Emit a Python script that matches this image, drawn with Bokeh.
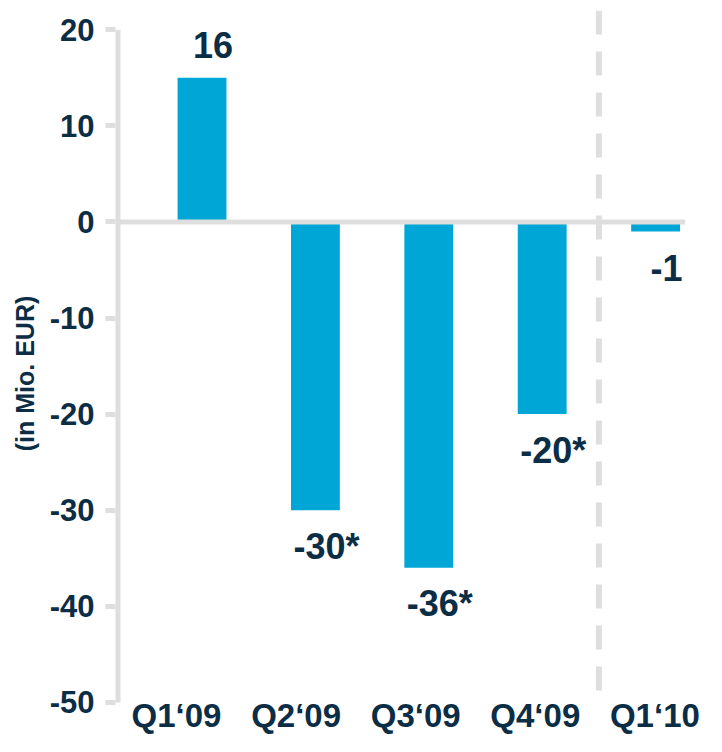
from bokeh.plotting import figure
from bokeh.models import Range1d, FixedTicker, ColumnDataSource
from bokeh.core.properties import value
from bokeh.embed import file_html
from bokeh.resources import INLINE

# ---- data ----
categories = ["Q1\u201809", "Q2\u201809", "Q3\u201809", "Q4\u201809", "Q1\u201810"]
values = [15, -30, -36, -20, -1]
value_labels = ["16", "-30*", "-36*", "-20*", "-1"]
y_ticks = [-50, -40, -30, -20, -10, 0, 10, 20]
y_tick_labels = ["-50", "-40", "-30", "-20", "-10", "0", "10", "20"]
y_title = "(in Mio. EUR)"
divider_after = 3  # dashed divider between Q4'09 and Q1'10

# ---- style ----
BAR = "#00A7D6"
NAVY = "#0B2D45"
GRAY = "#DEDEDE"
FONT = "Liberation Sans"

X_START, X_END = -0.763, 4.449          # bar scale
LBL_START, LBL_END = -0.510, 4.4315     # category-label scale (labels spaced a bit wider)
Y_MIN, Y_MAX = -53.55, 22

xs = list(range(len(categories)))

p = figure(width=706, height=736, output_backend="svg", toolbar_location=None,
           x_range=Range1d(X_START, X_END), y_range=Range1d(Y_MIN, Y_MAX),
           x_axis_location=None,
           min_border_left=115, min_border_right=0, min_border_top=10,
           min_border_bottom=0)
p.extra_x_ranges = {"labels": Range1d(LBL_START, LBL_END)}
p.outline_line_color = None
p.grid.visible = False
p.background_fill_color = "white"
p.border_fill_color = "white"

# bars
p.vbar(x=xs, top=values, bottom=0, width=0.431, color=BAR, line_color=None)

# zero line
p.segment(x0=[X_START], y0=[0], x1=[4.26], y1=[0], line_color=GRAY, line_width=5)

# y axis line (half clipped by frame edge -> 5px visible)
p.segment(x0=[X_START], y0=[y_ticks[0]], x1=[X_START], y1=[y_ticks[-1]],
          line_color=GRAY, line_width=10)

# dashed divider
p.segment(x0=[divider_after + 0.5], y0=[Y_MAX], x1=[divider_after + 0.5], y1=[-48.8],
          line_color=GRAY, line_width=6, line_dash="24 17")

# value labels
yoff = [-33 if v >= 0 else 36 for v in values]
src = ColumnDataSource(dict(x=xs, y=values, t=value_labels, yo=yoff))
p.text(x="x", y="y", text="t", source=src, text_font=value(FONT),
       text_font_style="bold", text_font_size="36px", text_color=NAVY,
       text_align="center", text_baseline="middle", x_offset=11, y_offset="yo")

# category labels below the -50 line
csrc = ColumnDataSource(dict(x=xs, y=[y_ticks[0]] * len(xs), t=categories))
p.text(x="x", y="y", text="t", source=csrc, x_range_name="labels",
       text_font=value(FONT), text_font_style="bold", text_font_size="33px",
       text_color=NAVY, text_align="center", text_baseline="middle", y_offset=13)

# y axis
ya = p.yaxis[0]
ya.ticker = FixedTicker(ticks=y_ticks)
ya.major_label_overrides = {t: l for t, l in zip(y_ticks, y_tick_labels)}
ya.axis_line_color = None
ya.major_tick_line_color = GRAY
ya.major_tick_line_width = 5
ya.major_tick_out = 10
ya.major_tick_in = 0
ya.minor_tick_line_color = None
ya.major_label_standoff = 11
ya.major_label_text_font = FONT
ya.major_label_text_font_style = "bold"
ya.major_label_text_font_size = "31px"
ya.major_label_text_color = NAVY
ya.axis_label = y_title
ya.axis_label_text_font = FONT
ya.axis_label_text_font_style = "bold"
ya.axis_label_text_font_size = "25px"
ya.axis_label_text_color = NAVY
ya.axis_label_standoff = 8

open("out.html", "w").write(file_html(p, INLINE))
